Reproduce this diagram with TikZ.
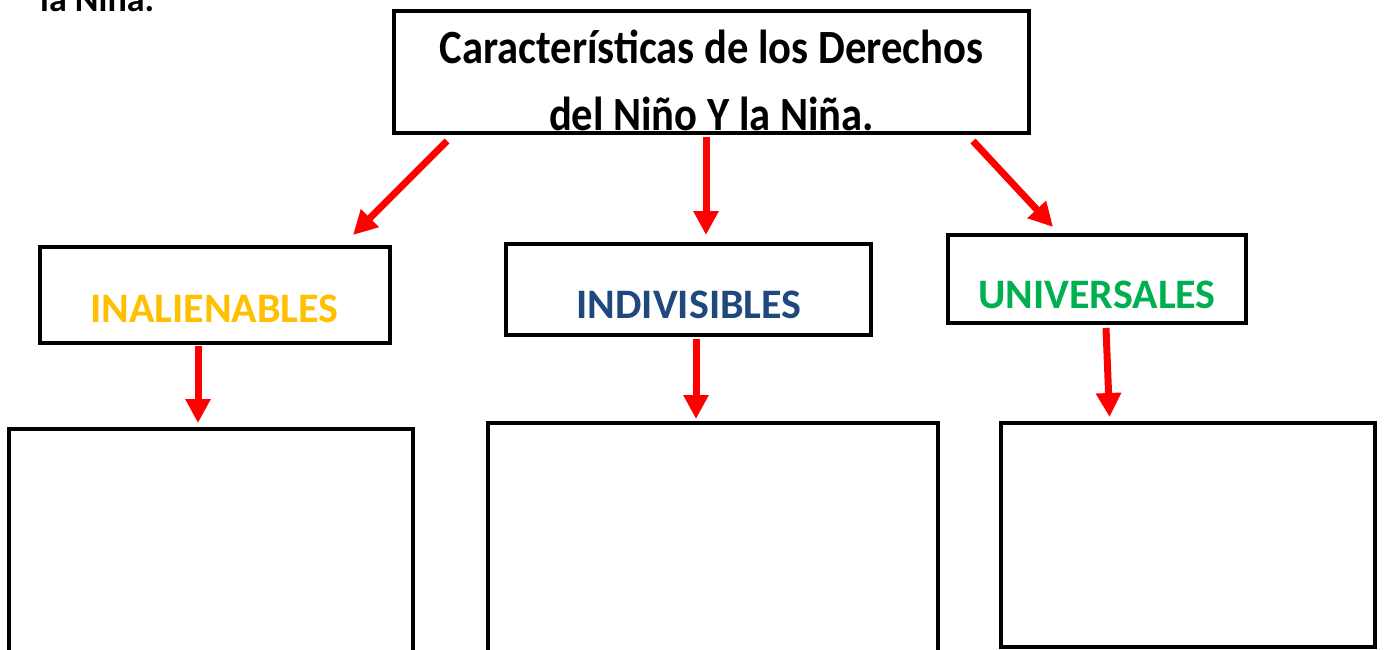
\documentclass[tikz,border=0pt]{standalone}
\usepackage{fontspec}
\setmainfont{Carlito}
\usetikzlibrary{arrows.meta}
\definecolor{cyellow}{HTML}{FFC000}
\definecolor{cblue}{HTML}{1F497D}
\definecolor{cgreen}{HTML}{00B050}
\tikzset{
  box/.style={draw=black, line width=4pt, inner sep=0pt, rectangle},
  conn/.style={draw=red, line width=7pt, -{Triangle[length=24pt,width=24pt]}},
  titletxt/.style={inner sep=0pt, anchor=base, font=\bfseries\fontsize{42.6}{50}\selectfont},
  labeltxt/.style={inner sep=0pt, anchor=base, font=\bfseries\fontsize{42}{50}\selectfont},
}
\begin{document}
\begin{tikzpicture}[x=1pt,y=-1pt]
\clip (0,0) rectangle (1384,650);
\fill[white] (0,0) rectangle (1384,650);
% top-left fragment
\node[inner sep=0pt, anchor=base west, font=\bfseries\fontsize{36}{42}\selectfont] (frag) at (40,12) {la Niña.};
% title
\node[titletxt] (t1) at (711.5,64) {\scalebox{1}[1.12]{Características de los Derechos}};
\node[titletxt] (t2) at (711.5,131) {\scalebox{1}[1.12]{del Niño Y la Niña.}};
\node[box, minimum width=635pt, minimum height=122pt] (title) at (711.5,72) {};
% category boxes
\node[box, minimum width=350pt, minimum height=96pt] (inal) at (215,295) {};
\node[labeltxt, text=cyellow] (inaltxt) at (214.5,322) {INALIENABLES};
\node[box, minimum width=365pt, minimum height=91pt] (indi) at (688.5,289.5) {};
\node[labeltxt, text=cblue] (inditxt) at (689,318) {INDIVISIBLES};
\node[box, minimum width=298pt, minimum height=88pt] (univ) at (1097,279) {};
\node[labeltxt, text=cgreen] (univtxt) at (1097,308) {UNIVERSALES};
% bottom boxes
\node[box, minimum width=404pt, minimum height=271pt] (b1) at (211,564.5) {};
\node[box, minimum width=450pt, minimum height=277pt] (b2) at (713,561.5) {};
\node[box, minimum width=374pt, minimum height=224pt] (b3) at (1188,535) {};
% connector end points
\coordinate (s1) at (447,141);
\coordinate (e1) at (353,235);
\coordinate (s2) at (706,137);
\coordinate (e2) at (706,235);
\coordinate (s3) at (973,141);
\coordinate (e3) at (1053,227);
\coordinate (s4) at (198,346);
\coordinate (e4) at (198,423);
\coordinate (s5) at (696,339);
\coordinate (e5) at (696,419);
\coordinate (s6) at (1106,328);
\coordinate (e6) at (1109.5,417);
\draw[conn] (s1) -- (e1);
\draw[conn] (s2) -- (e2);
\draw[conn] (s3) -- (e3);
\draw[conn] (s4) -- (e4);
\draw[conn] (s5) -- (e5);
\draw[conn] (s6) -- (e6);
\end{tikzpicture}
\end{document}
